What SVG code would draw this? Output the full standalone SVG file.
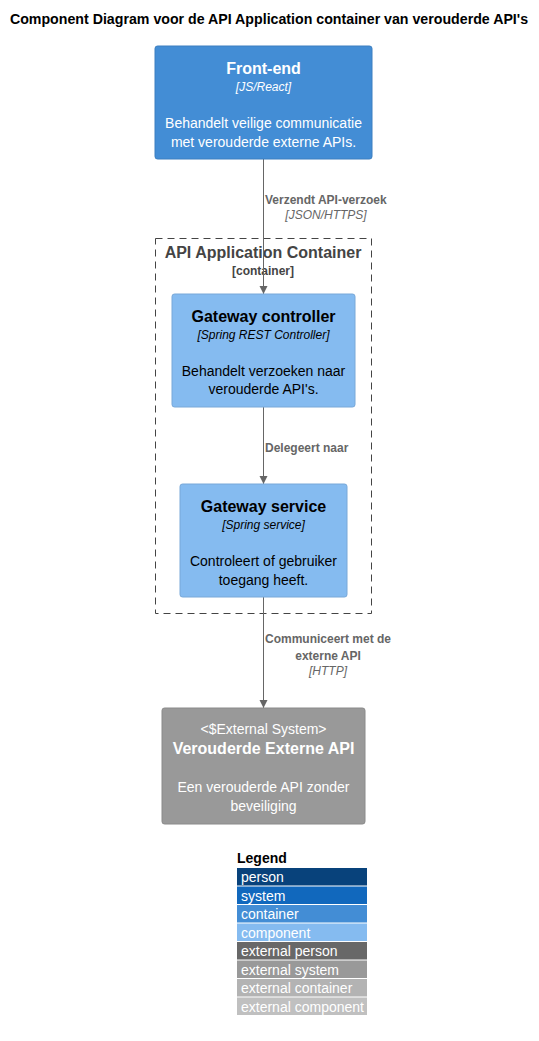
<svg xmlns="http://www.w3.org/2000/svg" width="539" height="1041" viewBox="0 0 539 1041">
<style>
text{font-family:"Liberation Sans",Arial,sans-serif}
.t{font-size:16px;font-weight:bold;text-anchor:middle}
.tech{font-size:12px;font-style:italic;text-anchor:middle}
.d{font-size:14px;text-anchor:middle}
.w{fill:#FFFFFF}
.b{fill:#000000}
.lb{font-size:12px;font-weight:bold;fill:#666666}
.li{font-size:12px;font-style:italic;fill:#666666}
.leg{font-size:14px;fill:#FFFFFF}
.conn{stroke:#666666;stroke-width:1;fill:none;marker-end:url(#arr)}
</style>
<defs>
<marker id="arr" viewBox="0 0 10 10" refX="10" refY="5" markerWidth="8" markerHeight="10" markerUnits="userSpaceOnUse" orient="auto">
<path d="M0,0 L10,5 L0,10 Z" fill="#666666"/>
</marker>
</defs>
<rect width="539" height="1041" fill="#FFFFFF"/>
<text x="269" y="24" font-size="14.2" font-weight="bold" text-anchor="middle">Component Diagram voor de API Application container van verouderde API's</text>

<g id="boundary">
<rect x="155.5" y="238.5" width="216" height="375" fill="none" stroke="#444444" stroke-dasharray="7,5"/>
<text x="263" y="258" class="t" fill="#444444">API Application Container</text>
<text x="263" y="275" font-size="12" font-weight="bold" text-anchor="middle" fill="#444444">[container]</text>
</g>

<g id="connectors">
<line x1="263.5" y1="159" x2="263.5" y2="294" class="conn"/>
<text x="265" y="204" class="lb">Verzendt API-verzoek</text>
<text x="326" y="219" class="li" text-anchor="middle">[JSON/HTTPS]</text>
<line x1="263.5" y1="407" x2="263.5" y2="484" class="conn"/>
<text x="265" y="452" class="lb">Delegeert naar</text>
<line x1="263.5" y1="597" x2="263.5" y2="708" class="conn"/>
<text x="265" y="643" class="lb">Communiceert met de</text>
<text x="328" y="660" class="lb" text-anchor="middle">externe API</text>
<text x="328" y="675" class="li" text-anchor="middle">[HTTP]</text>
</g>

<g id="frontend">
<rect x="155" y="46" width="217" height="113" rx="2.5" fill="#438DD5" stroke="#3C7FC0"/>
<text x="263.5" y="74" class="t w">Front-end</text>
<text x="263.5" y="91" class="tech w">[JS/React]</text>
<text x="263.5" y="128" class="d w">Behandelt veilige communicatie</text>
<text x="263.5" y="147" class="d w">met verouderde externe APIs.</text>
</g>

<g id="gateway-controller">
<rect x="172" y="294" width="183" height="113" rx="2.5" fill="#85BBF0" stroke="#78A8D8"/>
<text x="263.5" y="322" class="t b">Gateway controller</text>
<text x="263.5" y="339" class="tech b">[Spring REST Controller]</text>
<text x="263.5" y="376" class="d b">Behandelt verzoeken naar</text>
<text x="263.5" y="394" class="d b">verouderde API's.</text>
</g>

<g id="gateway-service">
<rect x="180" y="484" width="167" height="113" rx="2.5" fill="#85BBF0" stroke="#78A8D8"/>
<text x="263.5" y="512" class="t b">Gateway service</text>
<text x="263.5" y="529" class="tech b">[Spring service]</text>
<text x="263.5" y="566" class="d b">Controleert of gebruiker</text>
<text x="263.5" y="585" class="d b">toegang heeft.</text>
</g>

<g id="external-api">
<rect x="162" y="708" width="203" height="116" rx="2.5" fill="#999999" stroke="#8A8A8A"/>
<text x="263.5" y="734" class="d w">&lt;$External System&gt;</text>
<text x="263.5" y="754" class="t w">Verouderde Externe API</text>
<text x="263.5" y="792" class="d w">Een verouderde API zonder</text>
<text x="263.5" y="811" class="d w">beveiliging</text>
</g>

<g id="legend">
<text x="237" y="863" font-size="14" font-weight="bold">Legend</text>
<rect x="237" y="868" width="130" height="17.5" fill="#08427B"/>
<text x="241" y="882" class="leg">person</text>
<rect x="237" y="886.5" width="130" height="17.5" fill="#1168BD"/>
<text x="241" y="900.5" class="leg">system</text>
<rect x="237" y="905" width="130" height="17.5" fill="#438DD5"/>
<text x="241" y="919" class="leg">container</text>
<rect x="237" y="923.5" width="130" height="17.5" fill="#85BBF0"/>
<text x="241" y="937.5" class="leg">component</text>
<rect x="237" y="942" width="130" height="17.5" fill="#686868"/>
<text x="241" y="956" class="leg">external person</text>
<rect x="237" y="960.5" width="130" height="17.5" fill="#999999"/>
<text x="241" y="974.5" class="leg">external system</text>
<rect x="237" y="979" width="130" height="17.5" fill="#B3B3B3"/>
<text x="241" y="993" class="leg">external container</text>
<rect x="237" y="997.5" width="130" height="17.5" fill="#C0C0C0"/>
<text x="241" y="1011.5" class="leg">external component</text>
</g>
</svg>
